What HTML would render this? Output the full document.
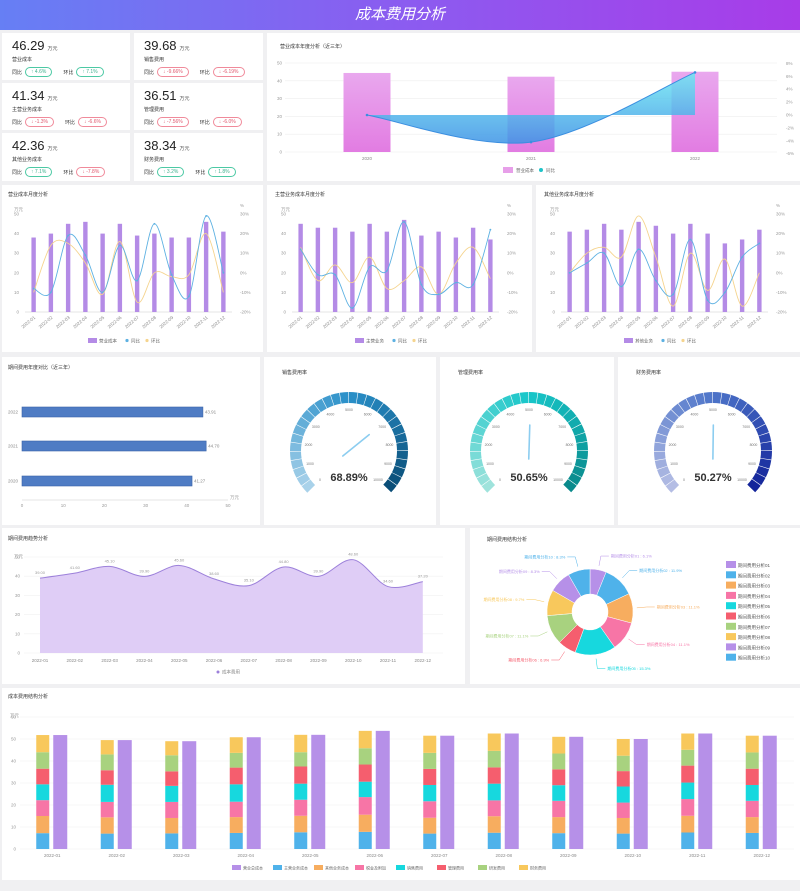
<!DOCTYPE html>
<html lang="zh"><head><meta charset="utf-8"><title>成本费用分析</title>
<style>
*{margin:0;padding:0;box-sizing:border-box}
body{width:800px;height:891px;background:#f0f0f2;font-family:"Liberation Sans","Noto Sans CJK SC",sans-serif;position:relative;overflow:hidden}
#hdr{position:absolute;left:0;top:0;width:800px;height:30px;background:linear-gradient(90deg,#667ff4,#8b5cf0 50%,#a83ce8);color:#fff;font-style:italic;font-size:15px;text-align:center;line-height:30px}
.card{position:absolute;background:#fff}
.kv{position:absolute;left:10px;top:5px;font-size:13px;color:#222}
.kv small{font-size:5px;color:#555;margin-left:3px}
.kl{position:absolute;left:10px;top:23px;font-size:5px;color:#333}
.kb{position:absolute;left:10px;top:34px;font-size:5px;color:#333;display:flex;align-items:center;gap:3px}
.pill{border:1px solid #4cc9a4;color:#3bb08c;border-radius:6px;padding:1px 5px;margin-right:8px}
.pill.dn{border-color:#f08a9a;color:#e0566c}
svg#main{position:absolute;left:0;top:0;pointer-events:none}
</style></head><body>
<div id="hdr">成本费用分析</div>

<div class="card" style="left:2px;top:33px;width:128px;height:47px"><div class="kv">46.29<small>万元</small></div><div class="kl">营业成本</div><div class="kb">同比<span class="pill">↑ 4.6%</span>环比<span class="pill">↑ 7.1%</span></div></div>
<div class="card" style="left:134px;top:33px;width:129px;height:47px"><div class="kv">39.68<small>万元</small></div><div class="kl">销售费用</div><div class="kb">同比<span class="pill dn">↓ -9.66%</span>环比<span class="pill dn">↓ -6.19%</span></div></div>
<div class="card" style="left:2px;top:83px;width:128px;height:47px"><div class="kv">41.34<small>万元</small></div><div class="kl">主营业务成本</div><div class="kb">同比<span class="pill dn">↓ -1.3%</span>环比<span class="pill dn">↓ -6.6%</span></div></div>
<div class="card" style="left:134px;top:83px;width:129px;height:47px"><div class="kv">36.51<small>万元</small></div><div class="kl">管理费用</div><div class="kb">同比<span class="pill dn">↓ -7.56%</span>环比<span class="pill dn">↓ -6.0%</span></div></div>
<div class="card" style="left:2px;top:133px;width:128px;height:48px"><div class="kv">42.36<small>万元</small></div><div class="kl">其他业务成本</div><div class="kb">同比<span class="pill">↑ 7.1%</span>环比<span class="pill dn">↓ -7.8%</span></div></div>
<div class="card" style="left:134px;top:133px;width:129px;height:48px"><div class="kv">38.34<small>万元</small></div><div class="kl">财务费用</div><div class="kb">同比<span class="pill">↑ 3.2%</span>环比<span class="pill">↑ 1.8%</span></div></div>

<div class="card" style="left:267px;top:33px;width:533px;height:148px"></div>
<div class="card" style="left:2px;top:185px;width:261px;height:167px"></div>
<div class="card" style="left:267px;top:185px;width:265px;height:167px"></div>
<div class="card" style="left:536px;top:185px;width:264px;height:167px"></div>
<div class="card" style="left:2px;top:357px;width:258px;height:168px"></div>
<div class="card" style="left:264px;top:357px;width:172px;height:168px"></div>
<div class="card" style="left:440px;top:357px;width:174px;height:168px"></div>
<div class="card" style="left:618px;top:357px;width:182px;height:168px"></div>
<div class="card" style="left:2px;top:528px;width:463px;height:156px"></div>
<div class="card" style="left:470px;top:528px;width:330px;height:156px"></div>
<div class="card" style="left:2px;top:688px;width:798px;height:192px"></div>

<svg id="main" width="800" height="891" viewBox="0 0 800 891">
<defs>
<linearGradient id="gPink" x1="0" y1="0" x2="0" y2="1"><stop offset="0" stop-color="#e9a8ee"/><stop offset="1" stop-color="#e27ce2"/></linearGradient>
<linearGradient id="gCyan" x1="0" y1="0" x2="0" y2="1"><stop offset="0" stop-color="#6ee8f2"/><stop offset="1" stop-color="#3d93e6"/></linearGradient>
</defs>
</svg>

<script>
// ---------- data ----------
const years = ['2020','2021','2022'];
const yearCost = [44.4, 42.3, 45.1];
const yearYoy = [0, -4.2, 6.6];
const months = ['2022-01','2022-02','2022-03','2022-04','2022-05','2022-06','2022-07','2022-08','2022-09','2022-10','2022-11','2022-12'];
const c1Bars = [38,40,45,46,40,45,39,40,38,38,46,41];
const c1Yoy = [-8,-10,19,9,-10,14,-4,25,-1,-12,29,0];
const c1Mom = [-10,14,15,5,-11,16,-15,0,-2,-1,20,-10];
const c2Bars = [45,43,43,41,45,41,47,39,41,38,43,37];
const c2Yoy = [12,-1,-1,-18,3,1,26,-6,-11,-5,-6,22];
const c2Mom = [13,-4,4,-5,8,-8,-4,3,-11,5,13,-3];
const c3Bars = [41,42,45,42,46,44,40,45,40,35,37,42];
const c3Yoy = [0,5,10,-7,12,-4,-11,17,-14,-10,8,15];
const c3Mom = [0,10,13,8,29,8,-17,10,-9,7,-17,0];
const hbarCats = ['2022','2021','2020'];
const hbarVals = [43.91,44.70,41.27];
const gaugeVals = [68.89,50.65,50.27];
const gaugeTicks = ['0','1000','2000','3000','4000','5000','6000','7000','8000','9000','10000'];
const trendVals = [39.0,41.6,45.1,39.9,45.6,38.6,35.1,44.8,39.9,48.6,34.6,37.2];
const pieNames = ['期间费用分析01','期间费用分析02','期间费用分析03','期间费用分析04','期间费用分析05','期间费用分析06','期间费用分析07','期间费用分析08','期间费用分析09','期间费用分析10'];
const pieVals = [6.1,11.9,11.1,11.1,15.3,6.9,11.1,9.7,8.3,8.3];
const stMain = [7.2,7.0,7.1,7.3,7.6,7.8,7.0,7.4,7.2,7.0,7.5,7.3];
const stOther = [7.8,7.4,7.0,7.2,7.5,7.8,7.2,7.5,7.3,7.1,7.6,7.2];
const stTax = [7.2,7.0,7.3,7.0,7.3,8.0,7.5,7.2,7.4,7.0,7.6,7.4];
const stSales = [7.2,7.8,7.3,7.9,7.3,7.0,7.4,7.6,7.1,7.3,7.5,7.2];
const stMgmt = [7.1,6.6,6.6,7.6,7.8,7.8,7.3,7.4,7.2,7.0,7.7,7.4];
const stRd = [7.5,7.2,7.3,6.7,6.5,7.4,7.3,7.5,7.2,7.0,7.2,7.4];
const stFin = [7.8,6.5,6.4,7.1,7.9,7.9,7.8,7.9,7.6,7.6,7.4,7.6];
const stNames = ['营业总成本','主营业务成本','其他业务成本','税金及附加','销售费用','管理费用','研发费用','财务费用'];

// ---------- helpers ----------
const NS='http://www.w3.org/2000/svg';
const svg=document.getElementById('main');
function mk(tag,attrs,parent){const e=document.createElementNS(NS,tag);for(const k in attrs)e.setAttribute(k,attrs[k]);(parent||svg).appendChild(e);return e;}
function tx(x,y,s,size,fill,anchor,extra){const e=mk('text',Object.assign({x:x,y:y,'font-size':size,fill:fill,'text-anchor':anchor||'start','font-family':'Liberation Sans, Noto Sans CJK SC, sans-serif'},extra||{}));e.textContent=s;return e;}
function smooth(p){let d='M'+p[0][0]+','+p[0][1];for(let i=0;i<p.length-1;i++){const p0=p[i-1]||p[i],p1=p[i],p2=p[i+1],p3=p[i+2]||p2;const c1x=p1[0]+(p2[0]-p0[0])/6,c1y=p1[1]+(p2[1]-p0[1])/6,c2x=p2[0]-(p3[0]-p1[0])/6,c2y=p2[1]-(p3[1]-p1[1])/6;d+=' C'+c1x+','+c1y+' '+c2x+','+c2y+' '+p2[0]+','+p2[1];}return d;}
let t;

// ---------- yearly combo ----------
(function(){
  const L=285,R=777,bw=(R-L)/years.length;
  const yL=v=>152-v*89/50, yR=p=>115-p*6.45;
  t=tx(280,48,'营业成本年度分析（近三年）',5,'#333');
  
  
  for(let v=0;v<=50;v+=10){
    const g=mk('line',{x1:L,x2:R,y1:yL(v),y2:yL(v),stroke:'#eee','stroke-width':0.6});
    
    
    t=tx(282,yL(v)+1.5,String(v),4.5,'#999','end');
    
    
  }
  for(let p=-6;p<=8;p+=2){
    t=tx(786,yR(p)+1.5,p+'%',4.5,'#999','start');
    
    
  }
  years.forEach((y,i)=>{
    const cx=L+bw*(i+.5);
    const b=mk('rect',{x:cx-23.5,y:yL(yearCost[i]),width:47,height:yL(0)-yL(yearCost[i]),fill:'url(#gPink)'});
    
    
    t=tx(cx,160,y,4.5,'#888','middle');
    
    
  });
  const pts=years.map((y,i)=>[L+bw*(i+.5),yR(yearYoy[i])]);
  const d=smooth(pts);
  const area=mk('path',{d:d+' L'+pts[pts.length-1][0]+','+yR(0)+' L'+pts[0][0]+','+yR(0)+' Z',fill:'url(#gCyan)',opacity:0.85});
  
  
  const ln=mk('path',{d:d,fill:'none',stroke:'#3a8ee0','stroke-width':1});
  
  
  pts.forEach(p=>{const c=mk('circle',{cx:p[0],cy:p[1],r:1.3,fill:'#3a8ee0'});
    
    });
  let r=mk('rect',{x:503,y:167,width:10,height:6,fill:'#e79fe9'});
  
  
  t=tx(516,172,'营业成本',4.5,'#666');
  
  
  r=mk('circle',{cx:541,cy:170,r:2,fill:'#1fc3c8'});
  
  
  t=tx(546,172,'同比',4.5,'#666');
  
  
})();

// ---------- monthly combos ----------
function combo(ox,title,bars,yoy,mom,key){
  const L=ox+25,R=ox+232,bw=(R-L)/months.length;
  const yL=v=>312-v*98/50, yR=p=>312-(p+20)*98/50;
  t=tx(ox+8,196,title,5,'#333');
  
  
  t=tx(ox+14,211,'万元',4.5,'#999');
  
  
  t=tx(ox+240,207,'%',4.5,'#999');
  
  
  for(let v=0;v<=50;v+=10){
    t=tx(L-6,yL(v)+1.5,String(v),4.5,'#999','end');
    
    
    t=tx(R+8,yL(v)+1.5,(v-20)+'%',4.5,'#999','start');
    
    
  }
  const ax=mk('line',{x1:L,x2:R,y1:312,y2:312,stroke:'#ccc','stroke-width':0.6});
  
  
  months.forEach((m,i)=>{
    const cx=L+bw*(i+.5);
    const b=mk('rect',{x:cx-2.2,y:yL(bars[i]),width:4.4,height:312-yL(bars[i]),fill:'#b48be6'});
    
    
    t=tx(cx+2,318,m,4.5,'#888','end',{transform:'rotate(-40 '+(cx+2)+' 318)'});
    
    
  });
  const pm=months.map((m,i)=>[L+bw*(i+.5),yR(mom[i])]);
  let l=mk('path',{d:smooth(pm),fill:'none',stroke:'#f5d48e','stroke-width':0.9});
  
  
  const py=months.map((m,i)=>[L+bw*(i+.5),yR(yoy[i])]);
  l=mk('path',{d:smooth(py),fill:'none',stroke:'#5db1e2','stroke-width':0.9});
  
  
  py.forEach(p=>{const c=mk('circle',{cx:p[0],cy:p[1],r:0.9,fill:'#5db1e2'});
    
    });
  const lx=ox+88;
  let r=mk('rect',{x:lx,y:338,width:9,height:5,fill:'#b48be6'});
  
  
  t=tx(lx+11,342.5,title.slice(0,4),4.5,'#666');
  
  
  r=mk('circle',{cx:lx+39,cy:340.5,r:1.6,fill:'#5db1e2'});
  
  
  t=tx(lx+43,342.5,'同比',4.5,'#666');
  
  
  r=mk('circle',{cx:lx+59,cy:340.5,r:1.6,fill:'#f5d48e'});
  
  
  t=tx(lx+63,342.5,'环比',4.5,'#666');
  
  
}
combo(0,'营业成本月度分析',c1Bars,c1Yoy,c1Mom,'monthly-cost');
combo(267,'主营业务成本月度分析',c2Bars,c2Yoy,c2Mom,'main-cost');
combo(536,'其他业务成本月度分析',c3Bars,c3Yoy,c3Mom,'other-cost');

// ---------- horizontal bar ----------
(function(){
  const L=22,R=228,x=v=>L+v*(R-L)/50;
  const ys=[412,446,481];
  t=tx(8,369,'期间费用年度对比（近三年）',5,'#333');
  
  
  const ax=mk('line',{x1:L,x2:R,y1:500,y2:500,stroke:'#ccc','stroke-width':0.6});
  
  
  for(let v=0;v<=50;v+=10){
    t=tx(x(v),507,String(v),4.5,'#999','middle');
    
    
  }
  t=tx(230,499,'万元',4.5,'#999');
  
  
  hbarCats.forEach((c,i)=>{
    const b=mk('rect',{x:L,y:ys[i]-5,width:x(hbarVals[i])-L,height:10,fill:'#4f7cc4',stroke:'#3a64a8','stroke-width':0.6});
    
    
    t=tx(L-4,ys[i]+1.5,c,4.5,'#888','end');
    
    
    t=tx(x(hbarVals[i])+2,ys[i]+1.5,hbarVals[i].toFixed(2),4.5,'#888');
    
    
  });
})();

// ---------- gauges ----------
function lerp(a,b,f){const pa=[1,3,5].map(i=>parseInt(a.substr(i,2),16)),pb=[1,3,5].map(i=>parseInt(b.substr(i,2),16));return 'rgb('+pa.map((v,i)=>Math.round(v+(pb[i]-v)*f)).join(',')+')';}
function gauge(cx,cy,r,val,stops,title,key,tx0){
  t=tx(tx0,374,title,5,'#333');
  
  
  const N=30,w=11,rad=a=>a*Math.PI/180;
  for(let i=0;i<N;i++){
    const a0=225-i*270/N,a1=225-(i+1)*270/N+0.6;
    const f=i/(N-1);
    const col=f<.5?lerp(stops[0],stops[1],f*2):lerp(stops[1],stops[2],(f-.5)*2);
    const P=(rr,a)=>[cx+rr*Math.cos(rad(a)),cy-rr*Math.sin(rad(a))];
    const o0=P(r,a0),o1=P(r,a1),i1=P(r-w,a1),i0=P(r-w,a0);
    const s=mk('path',{d:'M'+o0+' A'+r+','+r+' 0 0 1 '+o1+' L'+i1+' A'+(r-w)+','+(r-w)+' 0 0 0 '+i0+' Z',fill:col});
    
    
  }
  gaugeTicks.forEach((lb,i)=>{
    const a=rad(225-i*27);
    t=tx(cx+(r-18)*Math.cos(a),cy-(r-18)*Math.sin(a)+1.2,lb,3.5,'#777','middle');
    
    
  });
  const a=rad(225-val/100*270);
  const nd=mk('line',{x1:cx-8*Math.cos(a),y1:cy+8*Math.sin(a),x2:cx+26*Math.cos(a),y2:cy-26*Math.sin(a),stroke:'#8ccdf0','stroke-width':1.6,'stroke-linecap':'round'});
  
  
  t=tx(cx,cy+30,val.toFixed(2)+'%',11,'#333','middle',{'font-weight':'bold'});
  
  
}
gauge(349,451,59,gaugeVals[0],['#a9d2ea','#2a90c9','#0a4e78'],'销售费用率','gauge-sales',282);
gauge(529,451,59,gaugeVals[1],['#9fe3dc','#17c6c9','#0a8a8c'],'管理费用率','gauge-admin',458);
gauge(713,451,59,gaugeVals[2],['#b4bde4','#4d74c9','#13249a'],'财务费用率','gauge-finance',636);

// ---------- trend area ----------
(function(){
  const x=i=>40+i*34.8, y=v=>653-v*96/50;
  t=tx(8,540,'期间费用趋势分析',5,'#333');
  
  
  t=tx(14,558,'万元',4.5,'#999');
  
  
  for(let v=0;v<=50;v+=10){
    const g=mk('line',{x1:24,x2:443,y1:y(v),y2:y(v),stroke:'#f0f0f0','stroke-width':0.6});
    
    
    t=tx(20,y(v)+1.5,String(v),4.5,'#999','end');
    
    
  }
  const pts=trendVals.map((v,i)=>[x(i),y(v)]);
  const d=smooth(pts);
  const ar=mk('path',{d:d+' L'+x(11)+','+y(0)+' L'+x(0)+','+y(0)+' Z',fill:'#dfcdf6'});
  
  
  const ln=mk('path',{d:d,fill:'none',stroke:'#9c80da','stroke-width':1});
  
  
  months.forEach((m,i)=>{
    t=tx(x(i),y(trendVals[i])-4,trendVals[i].toFixed(2),4,'#999','middle');
    
    
    t=tx(x(i),662,m,4.5,'#888','middle');
    
    
  });
  const c=mk('circle',{cx:218,cy:672,r:1.5,fill:'#9c80da'});
  
  
  t=tx(222,673.5,'成本费用',4.5,'#888');
  
  
})();

// ---------- donut ----------
(function(){
  const cx=590,cy=612,R=43,r0=18;
  const cols=['#b690e8','#4fb2ea','#f7ad5f','#f775a6','#17d8de','#f55e6e','#a8d27f','#f8c85c','#b690e8','#4fb2ea'];
  t=tx(487,541,'期间费用结构分析',5,'#333');
  
  
  const tot=pieVals.reduce((a,b)=>a+b,0);
  let acc=0;
  pieVals.forEach((v,i)=>{
    const a0=acc/tot*2*Math.PI, a1=(acc+v)/tot*2*Math.PI; acc+=v;
    const P=(rr,a)=>[cx+rr*Math.sin(a),cy-rr*Math.cos(a)];
    const big=(a1-a0)>Math.PI?1:0;
    const s=mk('path',{d:'M'+P(R,a0)+' A'+R+','+R+' 0 '+big+' 1 '+P(R,a1)+' L'+P(r0,a1)+' A'+r0+','+r0+' 0 '+big+' 0 '+P(r0,a0)+' Z',fill:cols[i],stroke:'#fff','stroke-width':0.5});
    
    
    const am=(a0+a1)/2, e1=P(R+4,am), e2=P(R+14,am);
    const right=Math.sin(am)>=0, ex=e2[0]+(right?8:-8);
    const ll=mk('polyline',{points:e1+' '+e2+' '+ex+','+e2[1],fill:'none',stroke:cols[i],'stroke-width':0.5});
    
    
    t=tx(ex+(right?2:-2),e2[1]+1.5,pieNames[i]+' : '+v.toFixed(1)+'%',4,cols[i],right?'start':'end');
    
    
    const lg=mk('rect',{x:726,y:561+i*10.3,width:10,height:7,fill:cols[i]});
    
    
    t=tx(738,567+i*10.3,pieNames[i],4.5,'#555');
    
    
  });
})();

// ---------- stacked ----------
(function(){
  const series=[stMain,stOther,stTax,stSales,stMgmt,stRd,stFin];
  const cols=['#4fb2ea','#f7ad5f','#f775a6','#17d8de','#f55e6e','#a8d27f','#f8c85c'];
  const y=v=>849-v*2.2, bw=64.5;
  t=tx(8,698,'成本费用结构分析',5,'#333');
  
  
  t=tx(10,717,'万元',4.5,'#999');
  
  
  for(let v=0;v<=60;v+=10){
    const g=mk('line',{x1:20,x2:794,y1:y(v),y2:y(v),stroke:'#f0f0f0','stroke-width':0.6});
    
    
    t=tx(16,y(v)+1.5,String(v),4.5,'#999','end');
    
    
  }
  months.forEach((m,i)=>{
    const c=20+bw*(i+.5);
    let base=0;
    series.forEach((s,k)=>{
      const r=mk('rect',{x:c-16,y:y(base+s[i]),width:13,height:s[i]*2.2,fill:cols[k]});
      
      
      base+=s[i];
    });
    const tb=mk('rect',{x:c+1,y:y(base),width:14,height:base*2.2,fill:'#b690e8'});
    
    
    t=tx(c,857,m,4.5,'#888','middle');
    
    
  });
  const lcols=['#b690e8'].concat(cols);
  stNames.forEach((n,i)=>{
    const lx=232+i*41;
    const r=mk('rect',{x:lx,y:865,width:9,height:5,fill:lcols[i]});
    
    
    t=tx(lx+11,869.5,n,4,'#666');
    
    
  });
})();
</script>
</body></html>
